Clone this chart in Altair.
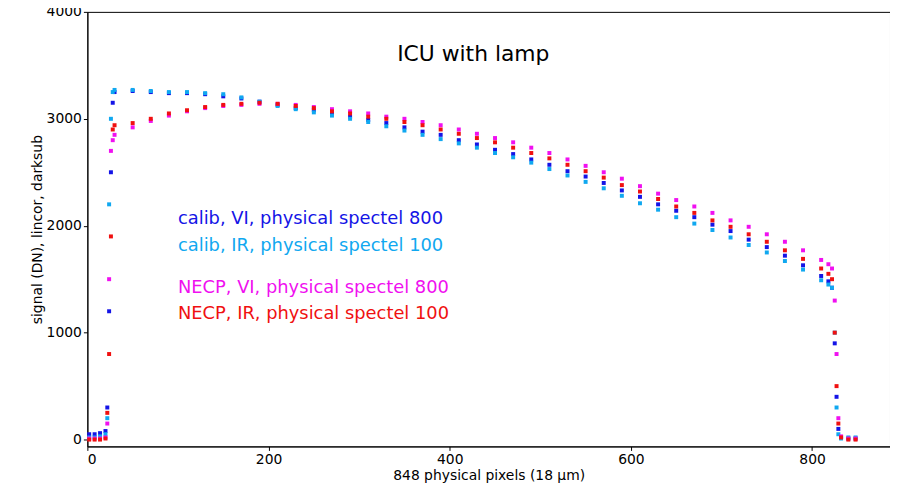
import altair as alt
import pandas as pd

xs = [2, 8, 14, 20, 22, 24, 26, 28,
      30, 50, 70, 90, 110, 130, 150, 170, 190, 210, 230, 250, 270, 290, 310, 330, 350, 370, 390,
      410, 430, 450, 470, 490, 510, 530, 550, 570, 590, 610, 630, 650, 670, 690, 710, 730, 750,
      770, 790, 810,
      818, 822, 825, 827, 829, 832, 840, 848]

calib_vi = [50, 50, 60, 80, 300, 1200, 2500, 3150,
            3250, 3260, 3250, 3240, 3240, 3230, 3210, 3190, 3160, 3130, 3100, 3080, 3050, 3020, 2990, 2960, 2920, 2880, 2850,
            2800, 2760, 2710, 2670, 2620, 2570, 2510, 2460, 2400, 2330, 2270, 2200, 2140, 2080, 2010, 1950, 1870, 1800,
            1720, 1630, 1530,
            1480, 1420, 900, 400, 100, 20, 10, 10]
calib_ir = [20, 20, 30, 50, 200, 2200, 3000, 3250,
            3270, 3270, 3260, 3250, 3250, 3240, 3230, 3200, 3160, 3120, 3090, 3060, 3030, 3000, 2970, 2930, 2890, 2850, 2810,
            2770, 2730, 2680, 2640, 2590, 2530, 2470, 2410, 2350, 2280, 2210, 2150, 2080, 2020, 1960, 1890, 1820, 1750,
            1670, 1590, 1490,
            1450, 1420, 1000, 300, 50, 10, 20, 20]
necp_vi = [10, 10, 10, 20, 150, 1500, 2700, 2800,
           2850, 2920, 2980, 3030, 3070, 3100, 3120, 3130, 3140, 3140, 3130, 3110, 3090, 3070, 3050, 3020, 3000, 2970, 2940,
           2900, 2860, 2820, 2780, 2730, 2680, 2620, 2560, 2500, 2440, 2370, 2300, 2240, 2180, 2120, 2050, 1990, 1920,
           1850, 1770, 1680,
           1640, 1600, 1300, 800, 200, 30, 10, 10]
necp_ir = [0, 0, 0, 10, 250, 800, 1900, 2900,
           2940, 2960, 3000, 3050, 3080, 3110, 3130, 3140, 3150, 3140, 3120, 3100, 3070, 3050, 3020, 3000, 2970, 2940, 2900,
           2860, 2820, 2780, 2730, 2680, 2630, 2570, 2510, 2450, 2380, 2320, 2250, 2180, 2120, 2050, 1990, 1920, 1850,
           1770, 1690, 1600,
           1550, 1500, 1000, 500, 150, 20, 0, 0]

names = ["calib, VI, physical spectel 800", "calib, IR, physical spectel 100",
         "NECP, VI, physical spectel 800", "NECP, IR, physical spectel 100"]
colors = ["#1414e6", "#10a8f0", "#f010f0", "#f01010"]
label_y = [2059, 1813, 1421, 1175]

rows = []
for i, (n, ys) in enumerate(zip(names, [calib_vi, calib_ir, necp_vi, necp_ir])):
    for x, y in zip(xs, ys):
        rows.append({"x": x, "y": y, "series": n, "order": i})
df = pd.DataFrame(rows)
labels = pd.DataFrame({"x": [100] * 4, "y": label_y, "series": names})

FONT = "DejaVu Sans"
xsc = alt.Scale(domain=[0, 886], nice=False, zero=False)
ysc = alt.Scale(domain=[-64, 4000], nice=False, zero=False)
csc = alt.Scale(domain=names, range=colors)

pts = alt.Chart(df).mark_square(size=16, opacity=1).encode(
    x=alt.X("x:Q", scale=xsc, title="848 physical pixels (18 μm)",
            axis=alt.Axis(values=[0, 200, 400, 600, 800], grid=False, format="d")),
    y=alt.Y("y:Q", scale=ysc, title="signal (DN), lincor, darksub",
            axis=alt.Axis(values=[0, 1000, 2000, 3000, 4000], grid=False, format="d")),
    color=alt.Color("series:N", scale=csc, legend=None),
    order="order:Q",
)

txt = alt.Chart(labels).mark_text(align="left", baseline="middle", fontSize=18, font=FONT).encode(
    x="x:Q", y="y:Q", color=alt.Color("series:N", scale=csc, legend=None), text="series:N")

title = alt.Chart(pd.DataFrame({"x": [426], "y": [3608], "t": ["ICU with lamp"]})).mark_text(
    fontSize=22, font=FONT, color="black").encode(x="x:Q", y="y:Q", text="t:N")

chart = alt.layer(pts, txt, title).properties(
    width=809, height=438,
    autosize=alt.AutoSizeParams(type="none"),
    padding={"left": 80, "top": 2, "right": 0, "bottom": 40},
).configure_view(stroke="black", strokeWidth=1).configure_axis(
    labelFont=FONT, titleFont=FONT, labelFontSize=14, titleFontSize=14,
    labelColor="black", titleColor="black", domainColor="black", tickColor="black",
    titleFontWeight="normal", labelPadding=2, titlePadding=2, tickSize=4,
)

chart.save("out.html", embed_options={"renderer": "svg", "actions": False})
